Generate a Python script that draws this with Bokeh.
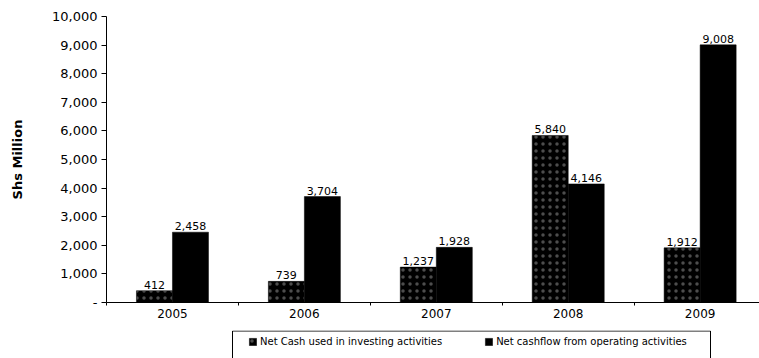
import numpy as np
from bokeh.plotting import figure
from bokeh.layouts import column
from bokeh.core.properties import value
from bokeh.models import (ColumnDataSource, Range1d, FixedTicker, SingleIntervalTicker,
                          NumeralTickFormatter, LabelSet, Legend, LegendItem)
from bokeh.embed import file_html
from bokeh.resources import INLINE

# Cash flow figures, Shs Million
years = ["2005", "2006", "2007", "2008", "2009"]
investing = [412, 739, 1237, 5840, 1912]
operating = [2458, 3704, 1928, 4146, 9008]
series_names = ["Net Cash used in investing activities",
                "Net cashflow from operating activities"]

FONT = "DejaVu Sans"
LEFT = 106
idx = np.arange(len(years))
bar_w = 0.273
off = bar_w / 2

INV_STYLE = dict(fill_color="black", line_color="black", line_width=0.5,
                 hatch_pattern=".", hatch_color="white", hatch_scale=7,
                 hatch_weight=0.5, hatch_alpha=0.3)
OP_STYLE = dict(fill_color="black", line_color="black", line_width=0.5)

inv_src = ColumnDataSource(dict(x=idx - off, top=investing,
                                label=[f"{v:,}" for v in investing]))
op_src = ColumnDataSource(dict(x=idx + off, top=operating,
                               label=[f"{v:,}" for v in operating]))

p = figure(width=759, height=330, output_backend="svg", toolbar_location=None,
           x_range=Range1d(-0.5, 4.45), y_range=Range1d(0, 10000),
           min_border_left=LEFT, min_border_right=0, min_border_top=16,
           min_border_bottom=28)
p.outline_line_color = None
p.xgrid.grid_line_color = None
p.ygrid.grid_line_color = None
p.background_fill_color = "white"
p.border_fill_color = "white"

p.vbar(x="x", top="top", width=bar_w, bottom=0, source=inv_src, **INV_STYLE)
p.vbar(x="x", top="top", width=bar_w, bottom=0, source=op_src, **OP_STYLE)

for src in (inv_src, op_src):
    p.add_layout(LabelSet(x="x", y="top", text="label", source=src,
                          text_align="center", text_baseline="bottom",
                          y_offset=2, text_font=value(FONT),
                          text_font_size="11px", text_color="black",
                          background_fill_color="white"))

# y axis
ya = p.yaxis[0]
ya.ticker = SingleIntervalTicker(interval=1000)
ya.formatter = NumeralTickFormatter(format="0,0")
ya.major_label_overrides = {0: "-"}
ya.major_label_text_font = FONT
ya.major_label_text_font_size = "13px"
ya.major_label_text_color = "black"
ya.major_tick_out = 5
ya.major_tick_in = 0
ya.major_label_standoff = 4
ya.minor_tick_line_color = None
ya.axis_line_color = "black"
ya.axis_label = "Shs Million"
ya.axis_label_text_font = FONT
ya.axis_label_text_font_style = "bold"
ya.axis_label_text_font_size = "13px"
ya.axis_label_text_color = "black"
ya.axis_label_standoff = 24

# x axis: year labels centred, small ticks between groups
xa = p.xaxis[0]
xa.ticker = FixedTicker(ticks=list(idx), minor_ticks=list(idx - 0.5) + [idx[-1] + 0.5])
xa.major_label_overrides = {int(i): y for i, y in zip(idx, years)}
xa.major_tick_line_color = None
xa.major_tick_out = 3
xa.minor_tick_out = 3
xa.minor_tick_in = 0
xa.minor_tick_line_color = "black"
xa.major_label_standoff = 3
xa.major_label_text_font = FONT
xa.major_label_text_font_size = "12px"
xa.major_label_text_color = "black"
xa.axis_line_color = "black"

# legend strip underneath the chart; its x coordinates are page pixels
lg = figure(width=759, height=28, output_backend="svg", toolbar_location=None,
            x_range=Range1d(LEFT, 759), y_range=Range1d(0, 28),
            min_border_left=LEFT, min_border_right=0, min_border_top=0,
            min_border_bottom=0)
lg.axis.visible = False
lg.grid.grid_line_color = None
lg.outline_line_color = None
lg.background_fill_color = "white"
lg.border_fill_color = "white"
lg.quad(left=[232], right=[710], bottom=[-5], top=[27.5], fill_color=None,
        line_color="black", line_width=1)
# zero-height key bars, kept left of the visible range
inv_key = lg.vbar(x=[0], top=[0], width=0, **INV_STYLE)
op_key = lg.vbar(x=[0], top=[0], width=0, **OP_STYLE)

legend = Legend(items=[LegendItem(label=series_names[0], renderers=[inv_key]),
                       LegendItem(label=series_names[1], renderers=[op_key])],
                orientation="horizontal", location=(248 - LEFT, 10),
                padding=2, spacing=42, margin=0,
                glyph_width=9, glyph_height=9, label_height=14,
                label_standoff=3, label_text_font=FONT,
                label_text_font_size="10px", label_text_color="black",
                border_line_color=None, background_fill_alpha=0)
lg.add_layout(legend, "center")

page = column(p, lg, spacing=0)
open("out.html", "w").write(file_html(page, INLINE))
